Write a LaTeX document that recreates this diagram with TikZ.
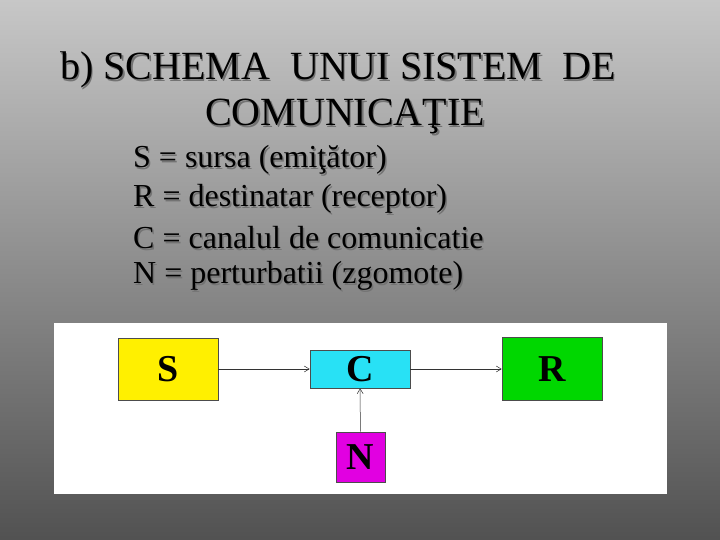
\documentclass[tikz,border=0pt]{standalone}
\usepackage{fontspec}
\setmainfont{Liberation Serif}
\usetikzlibrary{arrows.meta}
\definecolor{cyn}{RGB}{40,225,245}
\definecolor{mgt}{RGB}{225,0,225}
\definecolor{grn}{RGB}{0,215,0}
\definecolor{ylw}{RGB}{255,240,0}
\begin{document}
\begin{tikzpicture}[x=1pt,y=-1pt,
  box/.style={draw=black!70,line width=0.6pt,inner sep=0pt,font=\fontsize{38}{38}\selectfont\bfseries},
  conn/.style={-{Straight Barb[length=5pt,width=6pt]},line width=0.5pt,draw=black!80},
  txt/.style={font=\fontsize{32}{36}\selectfont,anchor=west,inner sep=0pt},
  ttl/.style={font=\fontsize{40}{44}\selectfont,inner sep=0pt}]
\useasboundingbox (0,0) rectangle (720,540);
\shade[top color=black!22,bottom color=black!68] (0,0) rectangle (720,540);
\foreach \dx/\c in {1.5/black!55,0/black} {
\begin{scope}[shift={(\dx,\dx)}]
\node[ttl,text=\c] (t1) at (338,70) {b) SCHEMA\ \ UNUI SISTEM\ \ DE};
\node[ttl,text=\c] (t2) at (345,117) {COMUNICAŢIE};
\node[txt,text=\c] (l1) at (133,160) {S = sursa (emiţător)};
\node[txt,text=\c] (l2) at (133,199) {R = destinatar (receptor)};
\node[txt,text=\c] (l3) at (133,238) {C = canalul de comunicatie};
\node[txt,text=\c] (l4) at (133,276) {N = perturbatii (zgomote)};
\end{scope}}
\fill[white] (54,323) rectangle (667,494);
\node[box,fill=ylw,minimum width=100pt,minimum height=62pt] (S) at (168,369) {S};
\node[box,fill=cyn,minimum width=100pt,minimum height=38pt] (C) at (360,369) {C};
\node[box,fill=grn,minimum width=100pt,minimum height=63pt] (R) at (552,369) {R};
\node[box,fill=mgt,minimum width=49pt,minimum height=50pt] (N) at (360.5,457) {N};
\draw[conn] (S) -- (C);
\draw[conn] (C) -- (R);
\draw[conn] (N) -- (C);
\end{tikzpicture}
\end{document}
